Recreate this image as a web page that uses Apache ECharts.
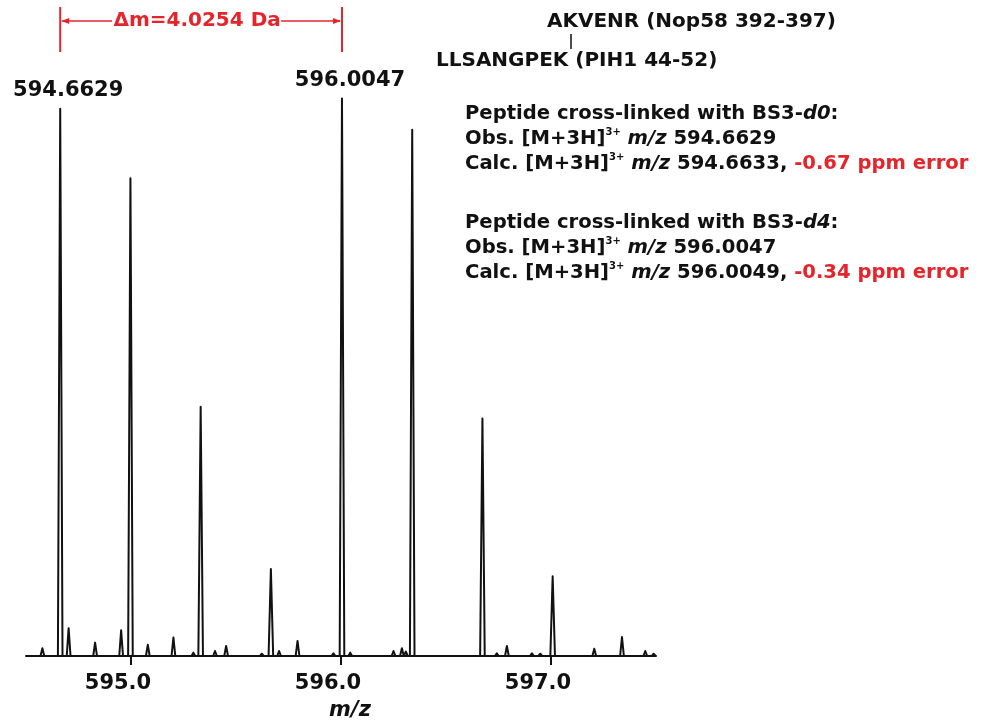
<!DOCTYPE html>
<html><head><meta charset="utf-8">
<script src="https://cdn.jsdelivr.net/npm/echarts@6/dist/echarts.min.js"></script>
<style>html,body{margin:0;padding:0;background:#fff}#c{width:988px;height:723px}</style>
</head><body><div id="c"></div>
<script>
// ---- data ----
const mainMz = [594.6629, 594.9973, 595.3317, 595.6661, 596.0047, 596.3391, 596.6735, 597.0079];
const mainInt = [98.2, 85.7, 44.7, 15.6, 100, 94.4, 42.6, 14.3];
const minorMz = [594.578, 594.703, 594.829, 594.953, 595.080, 595.202, 595.297, 595.400, 595.453, 595.623, 595.705, 595.793, 595.964, 596.044, 596.250, 596.290, 596.309, 596.742, 596.790, 596.909, 596.949, 597.206, 597.273, 597.338, 597.449, 597.489];
const minorInt = [1.4, 5.0, 2.4, 4.6, 2.0, 3.3, 0.6, 0.9, 1.8, 0.4, 0.9, 2.7, 0.5, 0.6, 0.9, 1.4, 0.8, 0.5, 1.8, 0.5, 0.4, 1.3, 0.3, 3.4, 0.9, 0.4];
const xTicks = [595.0, 596.0, 597.0];
const mzRange = [594.5, 597.5];
const labeledMz = [594.6629, 596.0047];
const labeledInt = [98.2, 100];
const labeledText = ['594.6629', '596.0047'];
const deltaText = 'Δm=4.0254 Da';
const peptideTop = 'AKVENR (Nop58 392-397)';
const peptideBottom = 'LLSANGPEK (PIH1 44-52)';

// ---- build profile (each peak as a narrow spike) ----
const HW_MAIN = 0.011, HW_MINOR = 0.009;
const peaks = mainMz.map((m, i) => [m, mainInt[i], HW_MAIN]).concat(minorMz.map((m, i) => [m, minorInt[i], HW_MINOR]));
peaks.sort((a, b) => a[0] - b[0]);
const profile = [[mzRange[0] + 0.005, 0]];
peaks.forEach(p => { profile.push([p[0] - p[2], 0], [p[0], p[1]], [p[0] + p[2], 0]); });
profile.push([mzRange[1] - 0.005, 0]);

const FONT = '"DejaVu Sans", sans-serif';
const BLACK = '#111111';
const RED = '#e4252c';

const chart = echarts.init(document.getElementById('c'), null, {renderer: 'canvas'});
chart.setOption({
  backgroundColor: '#ffffff',
  animation: false,
  grid: {left: 26, right: 332, top: 98.6, bottom: 67, containLabel: false, outerBoundsMode: 'none'},
  xAxis: {
    type: 'value', min: mzRange[0], max: mzRange[1],
    name: 'm/z', nameLocation: 'middle', nameGap: 44,
    nameTextStyle: {fontFamily: FONT, fontWeight: 'bold', fontStyle: 'italic', fontSize: 21, color: BLACK, padding: [0, 0, 0, 18]},
    axisLine: {show: true, onZero: false, lineStyle: {color: BLACK, width: 2}},
    axisTick: {show: true, customValues: xTicks, length: 9, lineStyle: {color: BLACK, width: 2}},
    axisLabel: {show: true, customValues: xTicks, margin: 17, fontFamily: FONT, fontWeight: 'bold', fontSize: 21, color: BLACK,
      padding: [0, 26, 0, 0], formatter: v => Number(v).toFixed(1)},
    splitLine: {show: false}
  },
  yAxis: {type: 'value', min: 0, max: 100, show: false, splitLine: {show: false}},
  series: [{
    type: 'line', data: profile, showSymbol: false, symbol: 'none', clip: false,
    lineStyle: {color: BLACK, width: 2, join: 'round'}
  }]
});

function px(x, y) { return chart.convertToPixel({gridIndex: 0}, [x, y]); }
const g = [];
// peak labels
labeledMz.forEach((m, i) => {
  const p = px(m, labeledInt[i]);
  g.push({type: 'text', x: p[0] + 8, y: p[1] - 18, style: {text: labeledText[i], font: 'bold 21px ' + FONT, fill: BLACK, align: 'center', verticalAlign: 'middle'}});
});
// delta mass annotation
const xa = px(labeledMz[0], 0)[0], xb = px(labeledMz[1], 0)[0];
const ay = 21, mid = (xa + xb) / 2 - 4;
g.push({type: 'line', shape: {x1: xa, y1: 7, x2: xa, y2: 52}, style: {stroke: RED, lineWidth: 2}});
g.push({type: 'line', shape: {x1: xb, y1: 7, x2: xb, y2: 52}, style: {stroke: RED, lineWidth: 2}});
g.push({type: 'line', shape: {x1: xa + 2, y1: ay, x2: mid - 85, y2: ay}, style: {stroke: RED, lineWidth: 1.6}});
g.push({type: 'line', shape: {x1: mid + 84, y1: ay, x2: xb - 2, y2: ay}, style: {stroke: RED, lineWidth: 1.6}});
g.push({type: 'polygon', shape: {points: [[xa + 1, ay], [xa + 9, ay - 3], [xa + 9, ay + 3]]}, style: {fill: RED}});
g.push({type: 'polygon', shape: {points: [[xb - 1, ay], [xb - 9, ay - 3], [xb - 9, ay + 3]]}, style: {fill: RED}});
g.push({type: 'text', x: mid, y: ay, style: {text: deltaText, font: 'bold 20px ' + FONT, fill: RED, align: 'center', verticalAlign: 'middle'}});
// peptide labels
g.push({type: 'text', x: 547, y: 22, style: {text: peptideTop, font: 'bold 20px ' + FONT, fill: BLACK, align: 'left', verticalAlign: 'middle'}});
g.push({type: 'text', x: 436, y: 61, style: {text: peptideBottom, font: 'bold 20px ' + FONT, fill: BLACK, align: 'left', verticalAlign: 'middle'}});
g.push({type: 'line', shape: {x1: 571, y1: 34, x2: 571, y2: 49}, style: {stroke: BLACK, lineWidth: 1.5}});
// info block
const FS = 19.6;
const rich = {
  b: {fontFamily: FONT, fontWeight: 'bold', fontSize: FS, fill: BLACK},
  bi: {fontFamily: FONT, fontWeight: 'bold', fontStyle: 'italic', fontSize: FS, fill: BLACK},
  sup: {fontFamily: FONT, fontWeight: 'bold', fontSize: 10, fill: BLACK, verticalAlign: 'top', lineHeight: 16},
  r: {fontFamily: FONT, fontWeight: 'bold', fontSize: FS, fill: RED}
};
const infoLines = [
  ['{b|Peptide cross-linked with BS3-}{bi|d0}{b|:}', 114],
  ['{b|Obs. [M+3H]}{sup|3+}{b| }{bi|m/z}{b| 594.6629}', 139],
  ['{b|Calc. [M+3H]}{sup|3+}{b| }{bi|m/z}{b| 594.6633, }{r|-0.67 ppm error}', 164],
  ['{b|Peptide cross-linked with BS3-}{bi|d4}{b|:}', 223],
  ['{b|Obs. [M+3H]}{sup|3+}{b| }{bi|m/z}{b| 596.0047}', 248],
  ['{b|Calc. [M+3H]}{sup|3+}{b| }{bi|m/z}{b| 596.0049, }{r|-0.34 ppm error}', 273]
];
infoLines.forEach(l => {
  g.push({type: 'text', x: 465, y: l[1], style: {text: l[0], rich: rich, fill: BLACK, align: 'left', verticalAlign: 'middle', lineHeight: 24}});
});
chart.setOption({graphic: {elements: g}});
</script>
</body></html>
